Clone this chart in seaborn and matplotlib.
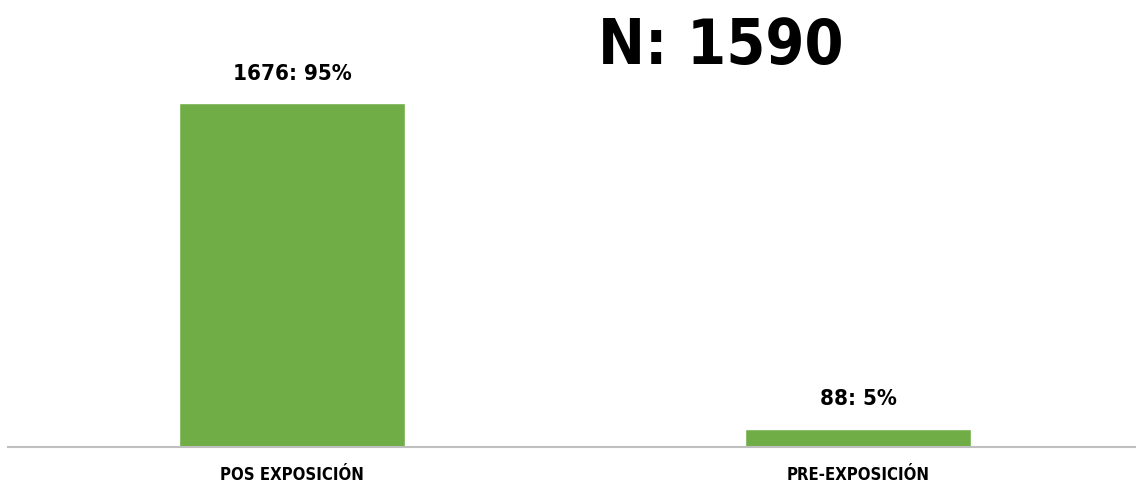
import matplotlib
matplotlib.use('Agg')
import matplotlib.pyplot as plt
import seaborn as sns
import pandas as pd

categorias = ['POS EXPOSICIÓN', 'PRE-EXPOSICIÓN']
casos = [1676, 88]
porcentajes = [95, 5]
titulo = 'N: 1590'

df = pd.DataFrame({'categoria': categorias, 'casos': casos})

sns.set_style('white')
plt.rcParams['font.family'] = ['DejaVu Sans']
plt.rcParams['text.color'] = 'black'
plt.rcParams['xtick.color'] = 'black'

fig = plt.figure(figsize=(11.36, 4.95), dpi=100)
ax = fig.add_axes([8 / 1136, 48 / 495, 1128 / 1136, 447 / 495])

sns.barplot(data=df, x='categoria', y='casos', color='#70AD47', saturation=1,
            width=0.4, ax=ax)

ax.set_xlim(-0.502, 1.491)
ax.set_ylim(0, 1676 * 447 / 344)

# etiquetas de datos encima de cada barra
for i, (c, p) in enumerate(zip(casos, porcentajes)):
    ax.annotate(f'{c}: {p}%', (i, c), xytext=(0, 14), textcoords='offset points',
                ha='center', va='bottom', fontsize=16, fontweight='bold',
                fontstretch='condensed', color='black')

sns.despine(ax=ax, left=True, top=True, right=True)
ax.spines['bottom'].set_color('#BFBFBF')
ax.spines['bottom'].set_linewidth(1.5)
ax.set_yticks([])
ax.set_xlabel('')
ax.set_ylabel('')
ax.tick_params(axis='x', length=0, pad=14)
for lbl in ax.get_xticklabels():
    lbl.set_fontsize(12)
    lbl.set_fontweight('bold')
    lbl.set_fontstretch('condensed')
    lbl.set_color('black')

fig.text(721 / 1136, 1 - 47 / 495, titulo, ha='center', va='center',
         fontsize=45, fontweight='bold', fontstretch='condensed', color='black')

fig.savefig('out.png', dpi=100)
